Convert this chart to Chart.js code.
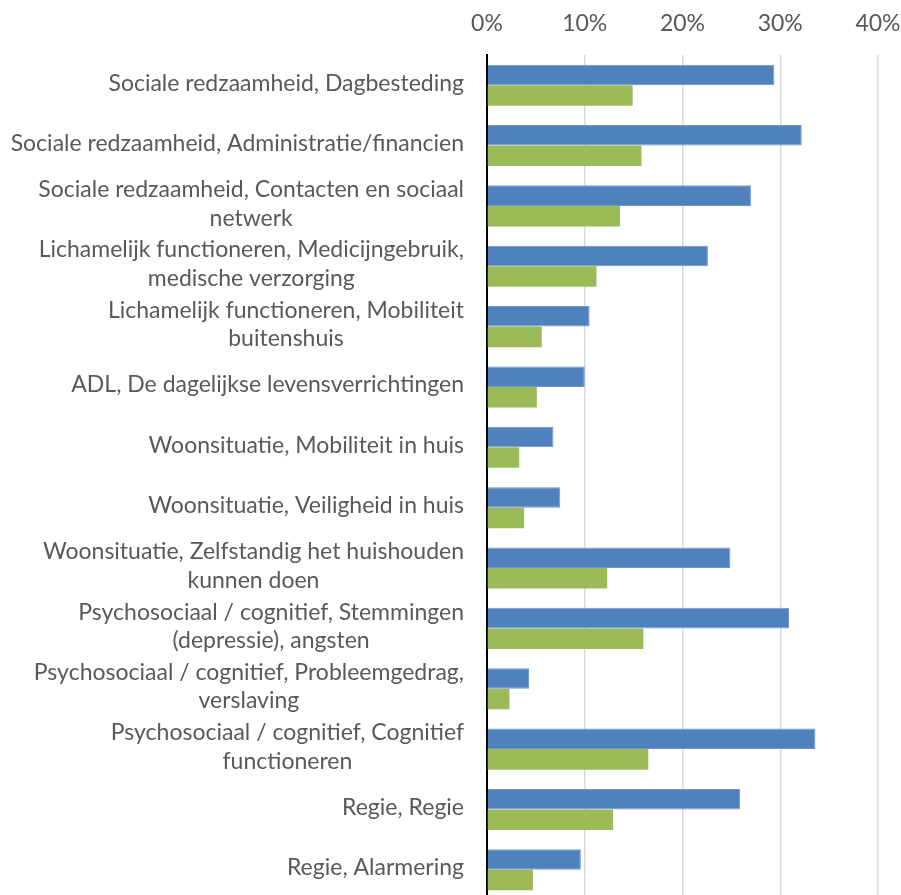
<!DOCTYPE html>
<html>
<head>
<meta charset="utf-8">
<script src="https://cdn.jsdelivr.net/npm/chart.js@4"></script>
<style>
  html, body { margin: 0; padding: 0; background: #fff; overflow: hidden; }
  #wrap { width: 901px; height: 900px; }
</style>
</head>
<body>
<div id="wrap"><canvas id="chart"></canvas></div>
<script>
const CATEGORIES = [
  ["Sociale redzaamheid, Dagbesteding"],
  ["Sociale redzaamheid, Administratie/financien"],
  ["Sociale redzaamheid, Contacten en sociaal", "netwerk"],
  ["Lichamelijk functioneren, Medicijngebruik,", "medische verzorging"],
  ["Lichamelijk functioneren, Mobiliteit", "buitenshuis"],
  ["ADL, De dagelijkse levensverrichtingen"],
  ["Woonsituatie, Mobiliteit in huis"],
  ["Woonsituatie, Veiligheid in huis"],
  ["Woonsituatie, Zelfstandig het huishouden", "kunnen doen"],
  ["Psychosociaal / cognitief, Stemmingen", "(depressie), angsten"],
  ["Psychosociaal / cognitief, Probleemgedrag,", "verslaving"],
  ["Psychosociaal / cognitief, Cognitief", "functioneren"],
  ["Regie, Regie"],
  ["Regie, Alarmering"],
];
const SERIES_BLUE  = [29.4, 32.2, 27.0, 22.6, 10.5, 10.0, 6.8, 7.5, 24.9, 30.9, 4.3, 33.6, 25.9, 9.6];
const SERIES_GREEN = [14.9, 15.8, 13.6, 11.2, 5.6, 5.1, 3.3, 3.8, 12.3, 16.0, 2.3, 16.5, 12.9, 4.7];
const X_TICKS = [0, 10, 20, 30, 40];

const FONT = "Lato, 'Liberation Sans', sans-serif";
const TEXT_COLOR = "#595959";

// y labels: block right-aligned, lines centred on each other (like Excel)
const yLabels = {
  id: "yLabels",
  afterDraw(chart) {
    const { ctx, scales: { y } } = chart;
    const right = y.right - 23;
    const lh = 28.5;
    ctx.save();
    ctx.font = "23px " + FONT;
    ctx.fillStyle = TEXT_COLOR;
    ctx.textAlign = "center";
    ctx.textBaseline = "middle";
    CATEGORIES.forEach((lines, i) => {
      const yc = y.getPixelForTick(i) - 2;
      const w = Math.max(...lines.map((l) => ctx.measureText(l).width));
      const cx = right - w / 2;
      const top = yc - (lines.length - 1) * lh / 2;
      lines.forEach((l, j) => ctx.fillText(l, cx, top + j * lh));
    });
    ctx.restore();
  },
};

new Chart(document.getElementById("chart"), {
  type: "bar",
  data: {
    labels: CATEGORIES,
    datasets: [
      { data: SERIES_BLUE, backgroundColor: "#4f81bd", borderColor: "#7097cc", borderWidth: 1,
        categoryPercentage: 0.68, barPercentage: 1.0 },
      { data: SERIES_GREEN, backgroundColor: "#9bbb59", borderWidth: 0,
        categoryPercentage: 0.68, barPercentage: 1.0 },
    ],
  },
  options: {
    indexAxis: "y",
    responsive: true,
    maintainAspectRatio: false,
    animation: false,
    layout: { padding: { left: 0, right: 23, top: 0, bottom: 0 } },
    plugins: { legend: { display: false }, tooltip: { enabled: false } },
    scales: {
      x: {
        position: "top",
        min: 0,
        max: 40,
        afterBuildTicks: (s) => { s.ticks = X_TICKS.map((v) => ({ value: v })); },
        afterFit: (s) => { s.height = 55; s.paddingLeft = 0; s.paddingRight = 0; },
        ticks: { color: TEXT_COLOR, font: { family: FONT, size: 23 }, padding: 18,
                 callback: (v) => v + "%" },
        grid: { color: "#d9d9d9", lineWidth: 1.5, drawTicks: false },
        border: { display: false },
      },
      y: {
        afterFit: (s) => { s.width = 487; },
        ticks: { display: false },
        grid: { display: false },
        border: { color: "#000", width: 2 },
      },
    },
  },
  plugins: [yLabels],
});
</script>
</body>
</html>
